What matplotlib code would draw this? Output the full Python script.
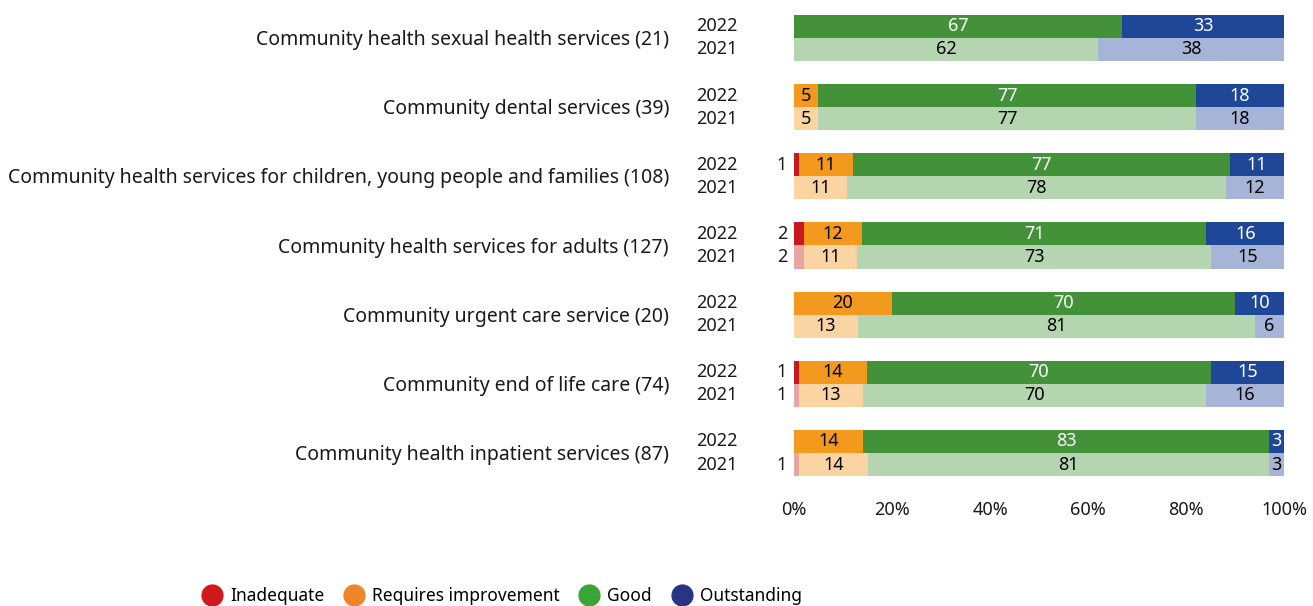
import matplotlib
matplotlib.use("Agg")
import matplotlib.pyplot as plt
from matplotlib.lines import Line2D
import numpy as np

plt.rcParams['font.family'] = ['Noto Sans', 'DejaVu Sans']

categories = [
    "Community health sexual health services (21)",
    "Community dental services (39)",
    "Community health services for children, young people and families (108)",
    "Community health services for adults (127)",
    "Community urgent care service (20)",
    "Community end of life care (74)",
    "Community health inpatient services (87)",
]
years = ["2022", "2021"]
ratings = ["Inadequate", "Requires improvement", "Good", "Outstanding"]

inadequate_2022 = [0, 0, 1, 2, 0, 1, 0]
requires_2022 = [0, 5, 11, 12, 20, 14, 14]
good_2022 = [67, 77, 77, 71, 70, 70, 83]
outstanding_2022 = [33, 18, 11, 16, 10, 15, 3]

inadequate_2021 = [0, 0, 0, 2, 0, 1, 1]
requires_2021 = [0, 5, 11, 11, 13, 13, 14]
good_2021 = [62, 77, 78, 73, 81, 70, 81]
outstanding_2021 = [38, 18, 12, 15, 6, 16, 3]

dark_colors = ["#C8171E", "#F39A1E", "#43923A", "#1F4798"]
light_colors = ["#E8A4A4", "#FAD5A3", "#B5D4B0", "#A6B5D7"]
dark_text = ["black", "black", "white", "white"]
legend_colors = ["#D0191E", "#F0862A", "#3AA437", "#283583"]

data = {
    "2022": np.array([inadequate_2022, requires_2022, good_2022, outstanding_2022], dtype=float),
    "2021": np.array([inadequate_2021, requires_2021, good_2021, outstanding_2021], dtype=float),
}

fig = plt.figure(figsize=(13.13, 6.06), dpi=100)
ax = fig.add_axes([0.6047, 0.1954, 0.978 - 0.6047, 0.9944 - 0.1954])

h = 0.333
n = len(categories)
for yi, year in enumerate(years):
    vals = data[year]
    totals = vals.sum(axis=0)
    widths = vals / totals * 100
    ypos = np.arange(n) + (-h / 2 if yi == 0 else h / 2)
    left = np.zeros(n)
    cols = dark_colors if yi == 0 else light_colors
    for ri in range(len(ratings)):
        w = widths[ri]
        ax.barh(ypos, w, left=left, height=h, color=cols[ri], edgecolor='none')
        for i in range(n):
            if vals[ri, i] <= 0:
                continue
            txt = f"{int(vals[ri, i])}"
            if ri == 0:
                ax.text(-1.4, ypos[i], txt, ha='right', va='center', fontsize=13, color='#1a1a1a')
            else:
                tc = (dark_text[ri] if yi == 0 else 'black')
                ax.text(left[i] + w[i] / 2, ypos[i], txt, ha='center', va='center',
                        fontsize=13, color=tc)
        left = left + w
    for i in range(n):
        ax.text(-11.5, ypos[i], year, ha='right', va='center', fontsize=13, color='#1a1a1a')

for i, c in enumerate(categories):
    ax.text(-25.5, i + 0.03, c, ha='right', va='center', fontsize=14, color='#1a1a1a')

ax.set_xlim(0, 100)
ax.set_ylim(n - 0.5, -0.5)
ax.set_xticks([0, 20, 40, 60, 80, 100])
ax.set_xticklabels([f"{t}%" for t in [0, 20, 40, 60, 80, 100]], fontsize=13, color='#1a1a1a')
ax.tick_params(axis='x', length=0, pad=10)
ax.set_yticks([])
for s in ax.spines.values():
    s.set_visible(False)

handles = [Line2D([0], [0], marker='o', linestyle='none', markersize=15,
                  markerfacecolor=c, markeredgecolor=c) for c in legend_colors]
fig.legend(handles, ratings, loc='center', bbox_to_anchor=(0.382, 0.016), ncol=4,
           frameon=False, fontsize=12.5, handletextpad=0.45, columnspacing=1.1,
           handlelength=1.2)

fig.savefig("out.png", dpi=100)
